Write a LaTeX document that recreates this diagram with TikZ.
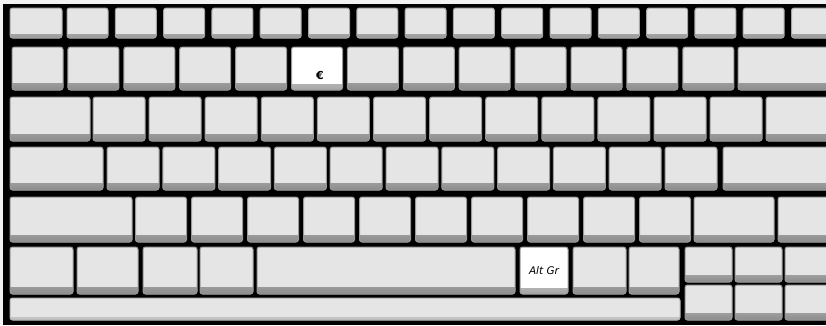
\documentclass[tikz,border=0pt]{standalone}
\usepackage{fontspec}
\newfontfamily\keyfont{DejaVu Sans}

\begin{document}
\begin{tikzpicture}[x=1pt,y=-1pt,
  keycap/.style={draw=black!40,line width=1pt,fill=black!10,rounded corners=2.5pt,inner sep=0pt,
    path picture={\shade[sharp corners,top color=black!10,bottom color=black!45]
      ([yshift=7pt]path picture bounding box.south west) rectangle (path picture bounding box.south east);}},
  fnkey/.style={keycap,draw=black!35,
    path picture={\shade[sharp corners,top color=black!10,bottom color=black!40]
      ([yshift=4pt]path picture bounding box.south west) rectangle (path picture bounding box.south east);}},
  litkey/.style={keycap,fill=white,
    path picture={\shade[sharp corners,top color=white,bottom color=black!35]
      ([yshift=6pt]path picture bounding box.south west) rectangle (path picture bounding box.south east);}},
  barkey/.style={keycap,draw=black!30,
    path picture={\shade[sharp corners,top color=black!8,bottom color=black!25]
      ([yshift=3pt]path picture bounding box.south west) rectangle (path picture bounding box.south east);}}]
\useasboundingbox (0,0) rectangle (826,325);
\clip (0,0) rectangle (826,325);
\fill[black!5] (0,0) rectangle (826,325);
\fill[black] (3,4) rectangle (826,325);

% function row
\node[fnkey,minimum width=52pt,minimum height=30pt] (esc) at (36,23) {};
\foreach \i in {0,...,15}
  \node[fnkey,minimum width=41pt,minimum height=30pt] (f\i) at ({87.5+48.3*\i},23) {};

% number row
\foreach \i in {0,1,2,3,4,6,7,8,9,10,11,12}
  \node[keycap,minimum width=51pt,minimum height=43pt] (n\i) at ({37.5+55.9*\i},68.5) {};
\node[litkey,minimum width=51pt,minimum height=43pt] (euro) at ({37.5+55.9*5},68.5) {};
\node[font=\keyfont\bfseries\fontsize{11}{11}\selectfont,inner sep=0pt] (eurosign) at ([xshift=3pt,yshift=-7pt]euro.center) {€};
\node[keycap,minimum width=92pt,minimum height=43pt] (bksp) at (784,68.5) {};

% top letter row
\node[keycap,minimum width=80pt,minimum height=44pt] (tab) at (50,119) {};
\foreach \i in {0,...,11}
  \node[keycap,minimum width=52pt,minimum height=44pt] (q\i) at ({119+56.1*\i},119) {};
\node[keycap,minimum width=64pt,minimum height=44pt] (bksl) at (798,119) {};

% home row
\node[keycap,minimum width=93pt,minimum height=43pt] (caps) at (56.5,168.5) {};
\foreach \i in {0,...,10}
  \node[keycap,minimum width=52pt,minimum height=43pt] (a\i) at ({133+55.8*\i},168.5) {};
\node[keycap,minimum width=107pt,minimum height=43pt] (enter) at (776.5,168.5) {};

% bottom letter row
\node[keycap,minimum width=122pt,minimum height=45pt] (lshift) at (71,219.5) {};
\foreach \i in {0,...,9}
  \node[keycap,minimum width=51pt,minimum height=45pt] (z\i) at ({161+56*\i},219.5) {};
\node[keycap,minimum width=80pt,minimum height=45pt] (rshift) at (734,219.5) {};
\node[keycap,minimum width=52pt,minimum height=45pt] (up) at (804,219.5) {};

% space row
\node[keycap,minimum width=63pt,minimum height=47pt] (ctrl) at (41.5,270.5) {};
\node[keycap,minimum width=61pt,minimum height=47pt] (fn) at (107.5,270.5) {};
\node[keycap,minimum width=54pt,minimum height=47pt] (win) at (170,270.5) {};
\node[keycap,minimum width=53pt,minimum height=47pt] (alt) at (226.5,270.5) {};
\node[keycap,minimum width=258pt,minimum height=47pt] (space) at (386,270.5) {};
\node[litkey,minimum width=48pt,minimum height=47pt,font=\keyfont\itshape\fontsize{10.5}{12}\selectfont] (altgr) at (544,270.5) {Alt Gr};
\node[keycap,minimum width=53pt,minimum height=47pt] (menu) at (599.5,270.5) {};
\node[keycap,minimum width=50pt,minimum height=47pt] (rctrl) at (654,270.5) {};

% cursor block
\foreach \c [count=\j] in {708.5,758.5,808.5} {
  \node[keycap,minimum width=47pt,minimum height=35pt] (cu\j) at (\c,264.5) {};
  \node[keycap,minimum width=47pt,minimum height=35pt] (cd\j) at (\c,302.5) {};
}

% front bar
\node[barkey,minimum width=670pt,minimum height=22pt] (bar) at (345,309) {};
\end{tikzpicture}
\end{document}
